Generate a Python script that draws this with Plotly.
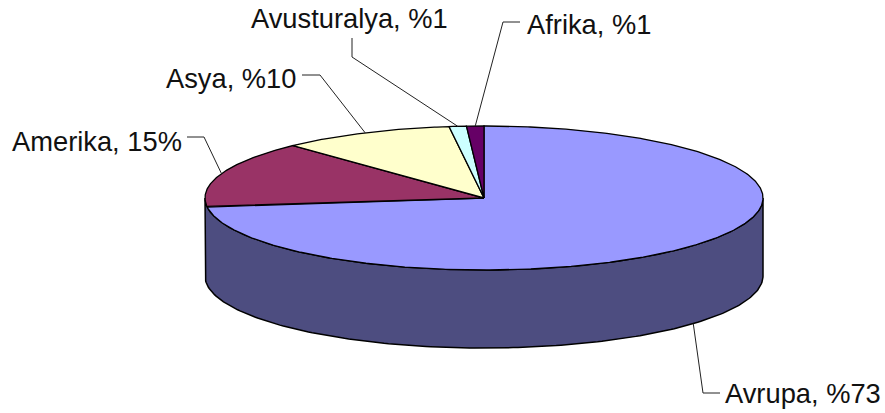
import numpy as np
import plotly.graph_objects as go

categories = ["Avrupa", "Amerika", "Asya", "Avusturalya", "Afrika"]
values = [73, 15, 10, 1, 1]
labels = ["Avrupa, %73", "Amerika, 15%", "Asya, %10", "Avusturalya, %1", "Afrika, %1"]
colors = ["#9999FF", "#993366", "#FFFFCC", "#CCFFFF", "#660066"]
wall_color = "#4D4D80"

# Pie geometry in pixel coordinates of the page
CX, CY, RX, RY, DEPTH = 484, 198, 279, 72, 78
W, H = 885, 413

# Leader-line layout: elbow, end, label position, anchor
leaders = {
    "Avrupa": ((703, 393), (720, 393), (723, 393), "left"),
    "Amerika": ((204, 137), (187, 137), (184, 141), "right"),
    "Asya": ((320, 75), (302, 75), (299, 78), "right"),
    "Avusturalya": ((352, 57), (352, 38), (349, 18), "center"),
    "Afrika": ((503, 22), (520, 22), (525, 24), "left"),
}


def pt(deg, dz=0):
    a = np.radians(deg)
    return CX + RX * np.sin(a), CY - RY * np.cos(a) + dz


fig = go.Figure()

# Side wall: the visible front half of the cylinder
front = np.linspace(90, 270, 181)
tx, ty = pt(front)
bx, by = pt(front[::-1], DEPTH)
fig.add_trace(go.Scatter(
    x=np.r_[tx, bx, tx[0]], y=np.r_[ty, by, ty[0]], mode="lines", fill="toself",
    fillcolor=wall_color, line=dict(color="#000000", width=1.5), hoverinfo="skip"))

# Top face slices, clockwise from 12 o'clock
edges = np.r_[0, np.cumsum(values)] / sum(values) * 360
for i, name in enumerate(categories):
    arc = np.linspace(edges[i], edges[i + 1], max(int(edges[i + 1] - edges[i]) * 2, 6))
    ax, ay = pt(arc)
    fig.add_trace(go.Scatter(
        x=np.r_[CX, ax, CX], y=np.r_[CY, ay, CY], mode="lines", fill="toself",
        fillcolor=colors[i], line=dict(color="#000000", width=1.3), name=name, hoverinfo="name"))

# Leader lines start at each slice's mid-angle on the rim
annotations = []
for i, name in enumerate(categories):
    mid = (edges[i] + edges[i + 1]) / 2
    sx, sy = pt(mid, DEPTH if 90 < mid < 270 else 0)
    elbow, end, lab, anchor = leaders[name]
    fig.add_trace(go.Scatter(
        x=[sx, elbow[0], end[0]], y=[sy, elbow[1], end[1]], mode="lines",
        line=dict(color="#222222", width=1), hoverinfo="skip"))
    annotations.append(dict(
        x=lab[0], y=lab[1], text=labels[i], showarrow=False, xanchor=anchor, yanchor="middle",
        font=dict(family="Liberation Sans, Arial, sans-serif", size=27.3, color="#111111")))

fig.update_layout(
    width=W, height=H, margin=dict(l=0, r=0, t=0, b=0), showlegend=False,
    paper_bgcolor="white", plot_bgcolor="white", annotations=annotations,
    xaxis=dict(range=[0, W], visible=False, fixedrange=True),
    yaxis=dict(range=[H, 0], visible=False, fixedrange=True),
)
fig.write_html("out.html", config={"displayModeBar": False},
               post_script="document.body.style.margin='0';document.body.style.overflow='hidden';")
